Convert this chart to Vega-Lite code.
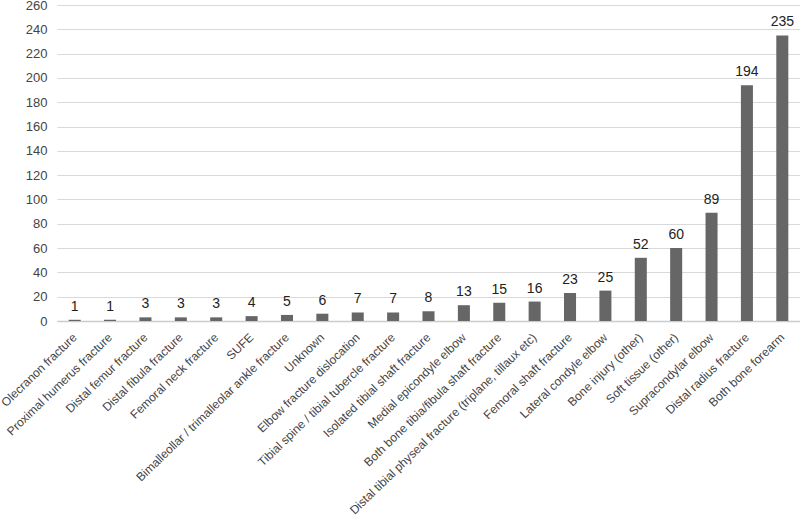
{
  "$schema": "https://vega.github.io/schema/vega-lite/v6.json",
  "autosize": "none",
  "width": 743,
  "height": 316,
  "padding": {"left": 57, "top": 5, "right": 0, "bottom": 198},
  "background": "white",
  "data": {
    "values": [
      {"injury": "Olecranon fracture", "count": 1},
      {"injury": "Proximal humerus fracture", "count": 1},
      {"injury": "Distal femur fracture", "count": 3},
      {"injury": "Distal fibula fracture", "count": 3},
      {"injury": "Femoral neck fracture", "count": 3},
      {"injury": "SUFE", "count": 4},
      {"injury": "Bimalleollar / trimalleolar ankle fracture", "count": 5},
      {"injury": "Unknown", "count": 6},
      {"injury": "Elbow fracture dislocation", "count": 7},
      {"injury": "Tibial spine / tibial tubercle fracture", "count": 7},
      {"injury": "Isolated tibial shaft fracture", "count": 8},
      {"injury": "Medial epicondyle elbow", "count": 13},
      {"injury": "Both bone tibia/fibula shaft fracture", "count": 15},
      {"injury": "Distal tibial physeal fracture (triplane, tillaux etc)", "count": 16},
      {"injury": "Femoral shaft fracture", "count": 23},
      {"injury": "Lateral condyle elbow", "count": 25},
      {"injury": "Bone injury (other)", "count": 52},
      {"injury": "Soft tissue (other)", "count": 60},
      {"injury": "Supracondylar elbow", "count": 89},
      {"injury": "Distal radius fracture", "count": 194},
      {"injury": "Both bone forearm", "count": 235}
    ]
  },
  "encoding": {
    "x": {
      "field": "injury",
      "type": "nominal",
      "sort": null,
      "scale": {"paddingInner": 0.66, "paddingOuter": 0.33},
      "axis": {
        "title": null,
        "labelAngle": -44,
        "labelAlign": "right",
        "labelBaseline": "middle",
        "labelFont": "Liberation Sans",
        "labelFontSize": 12,
        "labelColor": "#444444",
        "labelPadding": 14,
        "labelDx": 3,
        "labelLimit": 500,
        "ticks": false,
        "domainColor": "#cccccc",
        "domainWidth": 1.5
      }
    },
    "y": {
      "field": "count",
      "type": "quantitative",
      "scale": {"domain": [0, 260]},
      "axis": {
        "title": null,
        "values": [0, 20, 40, 60, 80, 100, 120, 140, 160, 180, 200, 220, 240, 260],
        "domain": false,
        "ticks": false,
        "labelFont": "Liberation Sans",
        "labelFontSize": 13,
        "labelColor": "#444444",
        "labelPadding": 10,
        "gridColor": "#d9d9d9",
        "gridWidth": 1
      }
    }
  },
  "layer": [
    {"mark": {"type": "bar", "color": "#666666"}},
    {
      "mark": {"type": "text", "dy": -6, "baseline": "bottom", "font": "Liberation Sans", "fontSize": 14, "color": "#222222"},
      "encoding": {"text": {"field": "count", "type": "quantitative"}}
    }
  ],
  "config": {"view": {"stroke": null}}
}
